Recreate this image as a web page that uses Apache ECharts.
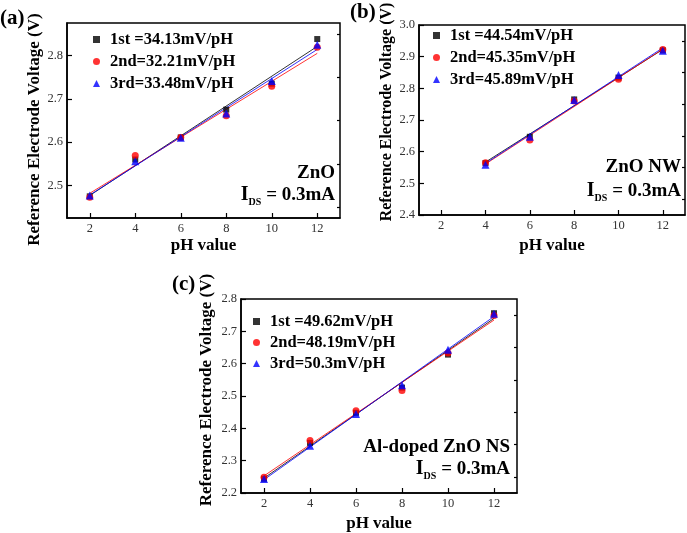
<!DOCTYPE html>
<html><head><meta charset="utf-8">
<script src="https://cdn.jsdelivr.net/npm/echarts@6/dist/echarts.min.js"></script>
<style>html,body{margin:0;padding:0;background:#fff}#c{width:687px;height:533px}</style>
</head><body><div id="c"></div>
<script>
// ---------- data ----------
const phA = [2, 4, 6, 8, 10, 12];
const a1st = [2.475, 2.560, 2.611, 2.675, 2.735, 2.838];
const a2nd = [2.473, 2.569, 2.611, 2.661, 2.729, 2.819];
const a3rd = [2.477, 2.556, 2.610, 2.666, 2.741, 2.825];
const aFitX = [2, 12];
const aFit1 = [2.477, 2.821];
const aFit2 = [2.482, 2.805];
const aFit3 = [2.478, 2.814];

const phB = [4, 6, 8, 10, 12];
const b1st = [2.564, 2.647, 2.765, 2.834, 2.920];
const b2nd = [2.565, 2.637, 2.760, 2.829, 2.923];
const b3rd = [2.559, 2.647, 2.763, 2.842, 2.919];
const bFitX = [4, 12];
const bFit1 = [2.567, 2.923];
const bFit2 = [2.561, 2.924];
const bFit3 = [2.563, 2.928];

const phC = [2, 4, 6, 8, 10, 12];
const c1st = [2.244, 2.355, 2.448, 2.526, 2.628, 2.756];
const c2nd = [2.249, 2.362, 2.454, 2.517, 2.633, 2.749];
const c3rd = [2.243, 2.346, 2.444, 2.533, 2.643, 2.754];
const cFitX = [2, 12];
const cFit1 = [2.246, 2.740];
const cFit2 = [2.253, 2.735];
const cFit3 = [2.241, 2.746];

const namesA = ['1st =34.13mV/pH', '2nd=32.21mV/pH', '3rd=33.48mV/pH'];
const namesB = ['1st =44.54mV/pH', '2nd=45.35mV/pH', '3rd=45.89mV/pH'];
const namesC = ['1st =49.62mV/pH', '2nd=48.19mV/pH', '3rd=50.3mV/pH'];

const xTicks = [2, 4, 6, 8, 10, 12];
const yTicksA = [2.5, 2.6, 2.7, 2.8];
const yMinorA = [2.45, 2.55, 2.65, 2.75, 2.85];
const yTicksB = [2.4, 2.5, 2.6, 2.7, 2.8, 2.9, 3.0];
const yMinorB = [2.45, 2.55, 2.65, 2.75, 2.85, 2.95];
const yTicksC = [2.2, 2.3, 2.4, 2.5, 2.6, 2.7, 2.8];
const yMinorC = [2.25, 2.35, 2.45, 2.55, 2.65, 2.75];

const yTitle = 'Reference Electrode Voltage (V)';
const xTitle = 'pH value';

// ---------- styles ----------
const SERIF = '"Liberation Serif","Times New Roman",serif';
const colors = ['#000000', '#ff0000', '#0000ff'];
const symbols = ['rect', 'circle', 'triangle'];
const symSizes = [6, 7, 8];

const zip = (xs, ys) => xs.map((x, i) => [x, ys[i]]);

function xAxis(gi, gap) {
  return {
    gridIndex: gi, type: 'value', min: 1, max: 13,
    name: xTitle, nameLocation: 'middle', nameGap: gap,
    nameTextStyle: { fontFamily: SERIF, fontWeight: 'bold', fontSize: 17, color: '#000' },
    axisLine: { show: true, onZero: false, lineStyle: { color: '#000', width: 1.5 } },
    axisTick: { show: true, inside: true, length: 5, customValues: xTicks, lineStyle: { color: '#000', width: 1.2 } },
    axisLabel: { customValues: xTicks, fontFamily: SERIF, fontSize: 12.5, color: '#333', margin: 4 },
    splitLine: { show: false }
  };
}
function yAxis(gi, min, max, ticks, gap, fs, pad) {
  return {
    gridIndex: gi, type: 'value', min: min, max: max,
    name: yTitle, nameLocation: 'middle', nameGap: gap,
    nameTextStyle: { fontFamily: SERIF, fontWeight: 'bold', fontSize: fs, color: '#000', padding: pad },
    axisLine: { show: true, onZero: false, lineStyle: { color: '#000', width: 1.5 } },
    axisTick: { show: true, inside: true, length: 5, customValues: ticks, lineStyle: { color: '#000', width: 1.2 } },
    axisLabel: { customValues: ticks, formatter: v => v.toFixed(1), fontFamily: SERIF, fontSize: 12.5, color: '#333', margin: 4 },
    splitLine: { show: false }
  };
}
function yMinor(gi, min, max, ticks) {
  return {
    gridIndex: gi, type: 'value', min: min, max: max,
    axisLine: { show: false },
    axisTick: { show: true, inside: true, length: 3, customValues: ticks, lineStyle: { color: '#000', width: 1.2 } },
    axisLabel: { show: false }, splitLine: { show: false }
  };
}

const series = [];
function addPanel(gi, xs, ys3, names, fitX, fits3) {
  fits3.forEach((f, k) => {
    series.push({
      type: 'line', name: 'fit' + gi + k, xAxisIndex: gi, yAxisIndex: gi * 2,
      data: zip(fitX, f), symbol: 'none', silent: true, z: 1,
      lineStyle: { color: colors[k], width: 1, opacity: 0.8 }
    });
  });
  ys3.forEach((ys, k) => {
    series.push({
      type: 'scatter', name: names[k], xAxisIndex: gi, yAxisIndex: gi * 2,
      data: zip(xs, ys), symbol: symbols[k], symbolSize: symSizes[k], z: 3 + k,
      itemStyle: { color: colors[k] }
    });
  });
}
addPanel(0, phA, [a1st, a2nd, a3rd], namesA, aFitX, [aFit1, aFit2, aFit3]);
addPanel(1, phB, [b1st, b2nd, b3rd], namesB, bFitX, [bFit1, bFit2, bFit3]);
addPanel(2, phC, [c1st, c2nd, c3rd], namesC, cFitX, [cFit1, cFit2, cFit3]);

function legend(names, left, top, gap) {
  return {
    data: names, orient: 'vertical', left: left, top: top, padding: 0,
    itemWidth: 7, itemHeight: 7, itemGap: gap, selectedMode: false,
    textStyle: { fontFamily: SERIF, fontWeight: 'bold', fontSize: 16.5, color: '#000', lineHeight: 16, padding: [0, 0, 0, 5] }
  };
}

const rich = {
  i: { fontFamily: SERIF, fontWeight: 'bold', fontSize: 20, fill: '#000', lineHeight: 24 },
  s: { fontFamily: SERIF, fontWeight: 'bold', fontSize: 10, fill: '#000', verticalAlign: 'bottom', lineHeight: 24 },
  n: { fontFamily: SERIF, fontWeight: 'bold', fontSize: 19, fill: '#000', lineHeight: 24 }
};
function txt(x, y, s, align, size) {
  return { type: 'text', x: x, y: y, silent: true, z: 10,
    style: { text: s, textAlign: align, textVerticalAlign: 'middle', font: 'bold ' + size + 'px ' + SERIF, fill: '#000' } };
}
function ids(x, y) {
  return { type: 'text', x: x, y: y, silent: true, z: 10,
    style: { text: '{i|I}{s|DS}{n| = 0.3mA}', rich: rich, textAlign: 'right', textVerticalAlign: 'middle', font: 'bold 19px ' + SERIF } };
}

const option = {
  backgroundColor: '#fff',
  animation: false,
  grid: [
    { left: 67, top: 23, width: 273, height: 195, show: true, borderColor: '#000', borderWidth: 1.5, backgroundColor: 'transparent' },
    { left: 419, top: 25, width: 266, height: 190, show: true, borderColor: '#000', borderWidth: 1.5, backgroundColor: 'transparent' },
    { left: 241, top: 299, width: 276, height: 196, show: true, borderColor: '#000', borderWidth: 1.5, backgroundColor: 'transparent' }
  ],
  xAxis: [xAxis(0, 19), xAxis(1, 22), xAxis(2, 22)],
  yAxis: [
    yAxis(0, 2.425, 2.875, yTicksA, 20, 17, [0, 18, 0, 0]), yMinor(0, 2.425, 2.875, yMinorA),
    yAxis(1, 2.4, 3.0, yTicksB, 24, 16, [0, 0, 0, 16]), yMinor(1, 2.4, 3.0, yMinorB),
    yAxis(2, 2.2, 2.8, yTicksC, 26, 17, [0, 0, 0, 12]), yMinor(2, 2.2, 2.8, yMinorC)
  ],
  legend: [legend(namesA, 93, 31, 5), legend(namesB, 433, 27, 5), legend(namesC, 253, 313, 4)],
  series: series,
  graphic: [
    txt(0, 19, '(a)', 'left', 21),
    txt(350, 13, '(b)', 'left', 21),
    txt(172, 285, '(c)', 'left', 21),
    txt(335, 173, 'ZnO', 'right', 19),
    ids(335, 195),
    txt(681, 167, 'ZnO NW', 'right', 19),
    ids(681, 191),
    txt(510, 447, 'Al-doped ZnO NS', 'right', 19),
    ids(510, 469)
  ]
};
const chart = echarts.init(document.getElementById('c'), null, { renderer: 'canvas' });
chart.setOption(option);
</script></body></html>
